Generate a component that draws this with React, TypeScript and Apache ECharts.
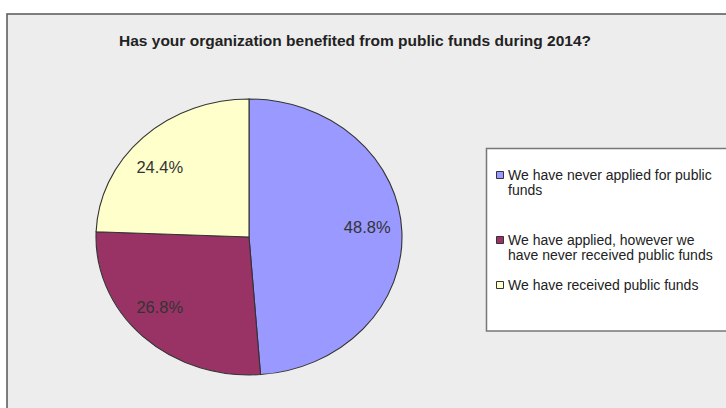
import React, { useEffect, useRef } from "react";
import * as echarts from "echarts";

const titleText = "Has your organization benefited from public funds during 2014?";
const categories = [
  "We have never applied for public funds",
  "We have applied, however we have never received public funds",
  "We have received public funds",
];
const legendLabels = [
  "We have never applied for public\nfunds",
  "We have applied, however we\nhave never received public funds",
  "We have received public funds",
];
const values = [48.8, 26.8, 24.4];
const colors = ["#9999FF", "#993366", "#FFFFCC"];

const W = 726;
const H = 408;
const CX = 249;
const CY = 237;
const RX = 153;
const RY = 138;
const legendRows = [175, 240, 285];

export default function App() {
  const ref = useRef<HTMLDivElement>(null);
  useEffect(() => {
    if (!ref.current) return;
    const chart = echarts.init(ref.current, null, { renderer: "svg", width: W, height: H });
    const total = values.reduce((a, b) => a + b, 0);
    const cum: number[] = [];
    values.reduce((acc, v, i) => {
      cum[i] = acc;
      return acc + v;
    }, 0);

    const renderItem = (params: any, api: any) => {
      const i = params.dataIndex;
      const v = api.value(1);
      const startFrac = cum[i] / total;
      const endFrac = (cum[i] + v) / total;
      const start = -Math.PI / 2 + startFrac * Math.PI * 2;
      const end = -Math.PI / 2 + endFrac * Math.PI * 2;
      const mid = ((startFrac + endFrac) / 2) * Math.PI * 2;
      const dx = Math.sin(mid);
      const dy = -Math.cos(mid);
      const k = 0.62;
      const tx = CX + k * RX * dx;
      const ty = CY + k * RY * dy - (Math.abs(dy) < 0.3 ? 7 : 0);
      const align = dx > 0.3 ? "left" : dx < -0.3 ? "right" : "center";
      const valign = dy < -0.3 ? "bottom" : dy > 0.3 ? "top" : "middle";
      return {
        type: "group",
        children: [
          {
            type: "group",
            x: CX,
            y: CY,
            scaleY: RY / RX,
            children: [
              {
                type: "sector",
                shape: { cx: 0, cy: 0, r0: 0, r: RX, startAngle: start, endAngle: end, clockwise: true },
                style: { fill: colors[i], stroke: "#333333", lineWidth: 1.1 },
              },
            ],
          },
          {
            type: "text",
            x: tx,
            y: ty,
            style: {
              text: v.toFixed(1) + "%",
              fontFamily: "Liberation Sans, Arial, sans-serif",
              fontSize: 16.5,
              fill: "#333333",
              align,
              verticalAlign: valign,
            },
          },
        ],
      };
    };

    const legendGraphics: any[] = [];
    legendLabels.forEach((lab, i) => {
      legendGraphics.push({
        type: "rect",
        shape: { x: 496.5, y: legendRows[i] - 3.5, width: 7, height: 7 },
        style: { fill: colors[i], stroke: "#333333", lineWidth: 1 },
        z: 10,
      });
      legendGraphics.push({
        type: "text",
        x: 508,
        y: legendRows[i] - 7.5,
        style: {
          text: lab,
          fontFamily: "Liberation Sans, Arial, sans-serif",
          fontSize: 14,
          lineHeight: 15,
          fill: "#222222",
          align: "left",
          verticalAlign: "top",
        },
        z: 10,
      });
    });

    chart.setOption({
      animation: false,
      backgroundColor: "#ffffff",
      graphic: [
        {
          type: "rect",
          shape: { x: 7, y: 14, width: 740, height: 420 },
          style: { fill: "#ededed", stroke: "#555555", lineWidth: 1.5 },
          z: -10,
        },
        {
          type: "text",
          x: 355,
          y: 40,
          style: {
            text: titleText,
            fontFamily: "Liberation Sans, Arial, sans-serif",
            fontWeight: "bold",
            fontSize: 15.5,
            fill: "#222222",
            align: "center",
            verticalAlign: "middle",
          },
          z: 10,
        },
        {
          type: "rect",
          shape: { x: 486.5, y: 148.5, width: 260, height: 182.5 },
          style: { fill: "#ffffff", stroke: "#777777", lineWidth: 1.5 },
          z: 5,
        },
        ...legendGraphics,
      ],
      series: [
        {
          type: "custom",
          name: "funds",
          coordinateSystem: "none",
          data: values.map((v, i) => ({ name: categories[i], value: [i, v] })),
          renderItem,
        },
      ],
    });
    return () => chart.dispose();
  }, []);
  return (
    <div
      ref={ref}
      style={{ position: "fixed", left: 0, top: 0, width: W, height: H }}
    />
  );
}
